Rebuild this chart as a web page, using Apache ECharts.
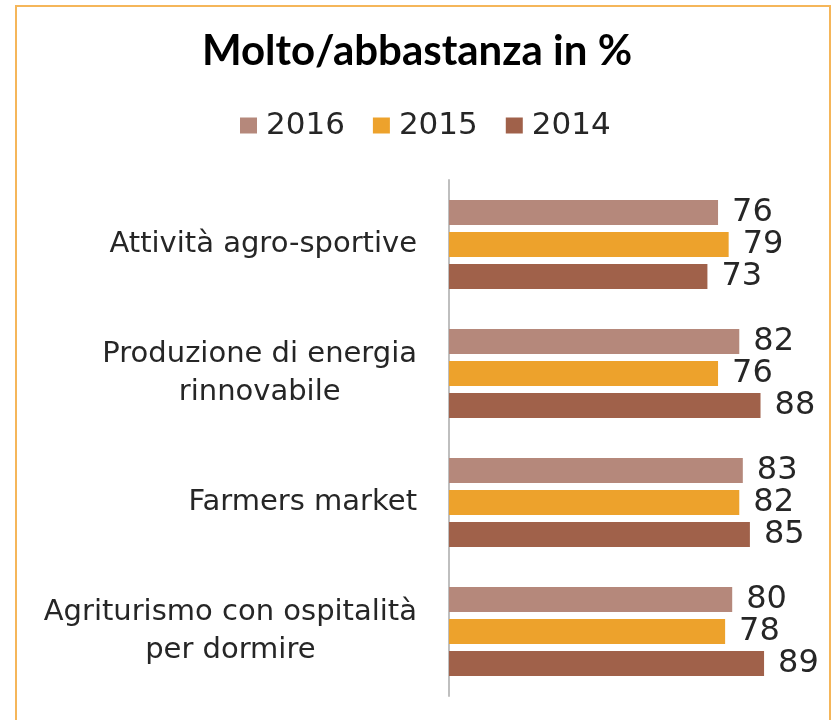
<!DOCTYPE html>
<html>
<head>
<meta charset="utf-8">
<script src="https://cdn.jsdelivr.net/npm/echarts@6/dist/echarts.min.js"></script>
<style>
  html, body { margin: 0; padding: 0; background: #fff; }
  #chart { width: 834px; height: 720px; }
</style>
</head>
<body>
<div id="chart"></div>
<script>
const categories = [
  "Attività agro-sportive",
  "Produzione di energia\nrinnovabile",
  "Farmers market",
  "Agriturismo con ospitalità\nper dormire"
];
const seriesNames = ["2016", "2015", "2014"];
const values2016 = [76, 82, 83, 80];
const values2015 = [79, 76, 82, 78];
const values2014 = [73, 88, 85, 89];
const seriesColors = ["#B5887B", "#EDA22C", "#A0614A"];

const font = "DejaVu Sans";
const chart = echarts.init(document.getElementById("chart"));

function makeSeries(name, data, color) {
  return {
    name: name,
    type: "bar",
    data: data,
    barWidth: 25,
    barGap: "28%",
    itemStyle: { color: color },
    label: {
      show: true,
      position: "right",
      distance: 14,
      fontFamily: font,
      fontSize: 32,
      color: "#262626"
    }
  };
}

const option = {
  animation: false,
  title: {
    text: "Molto/abbastanza in %",
    left: "center",
    top: 25,
    textStyle: { fontFamily: "Lato", fontWeight: "bold", fontSize: 42, color: "#000" }
  },
  legend: {
    top: 105,
    left: 235,
    itemWidth: 17,
    itemHeight: 16,
    itemGap: 28,
    icon: "rect",
    data: seriesNames,
    textStyle: { fontFamily: font, fontSize: 31, color: "#262626", padding: [0, 0, 0, 4] }
  },
  grid: { left: 449, right: 31, top: 180, bottom: 24, containLabel: false },
  xAxis: {
    type: "value",
    min: 0,
    max: 100,
    show: false
  },
  yAxis: {
    type: "category",
    inverse: true,
    data: categories,
    axisLine: { show: true, lineStyle: { color: "#BFBFBF", width: 2 } },
    axisTick: { show: false },
    axisLabel: {
      margin: 32,
      fontFamily: font,
      fontSize: 29,
      color: "#262626",
      lineHeight: 38,
      formatter: function (value) {
        return value.split("\n").map(function (line) { return "{c|" + line + "}"; }).join("\n");
      },
      rich: {
        c: { align: "center", fontFamily: font, fontSize: 29, color: "#262626", lineHeight: 38 }
      }
    }
  },
  graphic: [
    {
      type: "rect",
      shape: { x: 16, y: 6, width: 814, height: 760 },
      style: { fill: null, stroke: "#F5B65A", lineWidth: 2 },
      silent: true
    }
  ],
  series: [
    makeSeries(seriesNames[0], values2016, seriesColors[0]),
    makeSeries(seriesNames[1], values2015, seriesColors[1]),
    makeSeries(seriesNames[2], values2014, seriesColors[2])
  ]
};

chart.setOption(option);
</script>
</body>
</html>
